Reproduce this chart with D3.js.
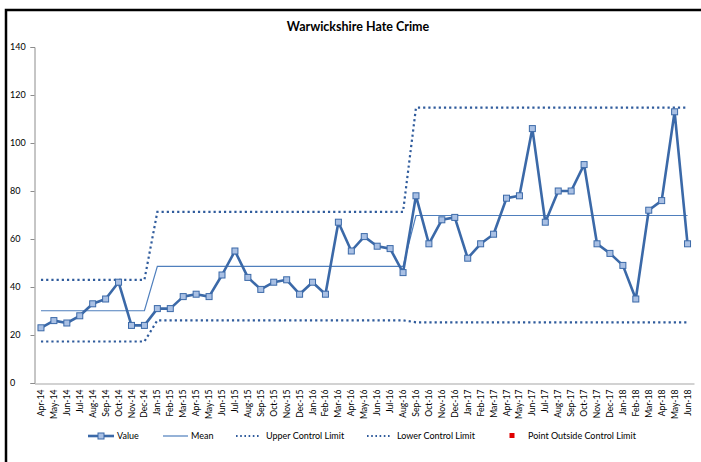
<!DOCTYPE html>
<html>
<head>
<meta charset="utf-8">
<script src="https://cdn.jsdelivr.net/npm/d3@7"></script>
<style>
html,body{margin:0;padding:0;background:#fff;}
svg text{font-family:Lato,"Liberation Sans",sans-serif;fill:#000;}
</style>
</head>
<body>
<svg id="chart" width="701" height="462"></svg>
<script>
const months = ["Apr-14","May-14","Jun-14","Jul-14","Aug-14","Sep-14","Oct-14","Nov-14","Dec-14",
"Jan-15","Feb-15","Mar-15","Apr-15","May-15","Jun-15","Jul-15","Aug-15","Sep-15","Oct-15","Nov-15","Dec-15",
"Jan-16","Feb-16","Mar-16","Apr-16","May-16","Jun-16","Jul-16","Aug-16","Sep-16","Oct-16","Nov-16","Dec-16",
"Jan-17","Feb-17","Mar-17","Apr-17","May-17","Jun-17","Jul-17","Aug-17","Sep-17","Oct-17","Nov-17","Dec-17",
"Jan-18","Feb-18","Mar-18","Apr-18","May-18","Jun-18"];
const values = [23,26,25,28,33,35,42,24,24,
31,31,36,37,36,45,55,44,39,42,43,37,
42,37,67,55,61,57,56,46,78,58,68,69,
52,58,62,77,78,106,67,80,80,91,58,54,
49,35,72,76,113,58];
// control-chart phases: [number of months, mean, upper limit, lower limit]
const phaseLengths = [9, 20, 22];
const phaseMeans = [30.1, 48.6, 69.8];
const phaseUCL = [43, 71.3, 114.7];
const phaseLCL = [17.3, 26.1, 25.3];
const yTicks = [0,20,40,60,80,100,120,140];
const title = "Warwickshire Hate Crime";
const legendLabels = ["Value","Mean","Upper Control Limit","Lower Control Limit","Point Outside Control Limit"];

function expand(arr){ const out=[]; phaseLengths.forEach((n,i)=>{for(let k=0;k<n;k++) out.push(arr[i]);}); return out; }
const meanS = expand(phaseMeans), uclS = expand(phaseUCL), lclS = expand(phaseLCL);

const svg = d3.select("#chart");
// outer chart frame
svg.append("rect").attr("x",6).attr("y",10).attr("width",720).attr("height",480)
  .attr("fill","none").attr("stroke","#000").attr("stroke-width",2.5);

const x = d3.scaleBand().domain(months).range([34.5,694]).paddingInner(0).paddingOuter(0);
const cx = d => x(d) + x.bandwidth()/2;
const y = d3.scaleLinear().domain([0,140]).range([383,47]);

svg.append("text").attr("x",358).attr("y",31).attr("text-anchor","middle")
  .attr("font-size","12.5px").attr("font-weight","bold").text(title);

// Y axis
const yAxis = svg.append("g").attr("transform","translate(34.5,0)")
  .call(d3.axisLeft(y).tickValues(yTicks).tickSize(4).tickPadding(5).tickFormat(d3.format("d")));
yAxis.select(".domain").attr("stroke","#8c8c8c");
yAxis.selectAll(".tick line").attr("stroke","#8c8c8c");
yAxis.selectAll("text").attr("font-size","9px").attr("font-family","Lato,sans-serif").attr("text-anchor","start").attr("x",-24.5);

// X axis
const xAxis = svg.append("g").attr("transform","translate(0,383.5)")
  .call(d3.axisBottom(x).tickSize(0).tickPadding(0));
xAxis.select(".domain").attr("stroke","#a6a6a6").attr("stroke-width",1.2);
xAxis.selectAll(".tick text").attr("font-size","8.6px").attr("font-family","Lato,sans-serif")
  .attr("text-anchor","end").attr("transform","translate(0,6) rotate(-90)")
  .attr("x",0).attr("y",0).attr("dy","0.35em");

const line = d3.line().x((d,i)=>cx(months[i])).y(d=>y(d));

// limits
svg.append("path").datum(uclS).attr("d",line).attr("fill","none")
  .attr("stroke","#2f5b9c").attr("stroke-width",2.2).attr("stroke-dasharray","2.2,3");
svg.append("path").datum(lclS).attr("d",line).attr("fill","none")
  .attr("stroke","#2f5b9c").attr("stroke-width",2.2).attr("stroke-dasharray","2.2,3");
// mean
svg.append("path").datum(meanS).attr("d",line).attr("fill","none")
  .attr("stroke","#4f7fbd").attr("stroke-width",1.2);
// values
svg.append("path").datum(values).attr("d",line).attr("fill","none")
  .attr("stroke","#3b69a8").attr("stroke-width",2.6).attr("stroke-linejoin","round");
svg.append("g").selectAll("rect").data(values).join("rect")
  .attr("x",(d,i)=>cx(months[i])-3).attr("y",d=>y(d)-3).attr("width",6).attr("height",6)
  .attr("fill","#a9c0e4").attr("stroke","#3b69a8").attr("stroke-width",1);

// Legend
const ly = 436;
const lg = svg.append("g");
lg.append("line").attr("x1",88).attr("x2",114).attr("y1",ly).attr("y2",ly).attr("stroke","#3b69a8").attr("stroke-width",2.6);
lg.append("rect").attr("x",98).attr("y",ly-3).attr("width",6).attr("height",6).attr("fill","#a9c0e4").attr("stroke","#3b69a8");
lg.append("line").attr("x1",163).attr("x2",188).attr("y1",ly).attr("y2",ly).attr("stroke","#4f7fbd").attr("stroke-width",1.2);
lg.append("line").attr("x1",236).attr("x2",261).attr("y1",ly).attr("y2",ly).attr("stroke","#2f5b9c").attr("stroke-width",2).attr("stroke-dasharray","1.6,2.6");
lg.append("line").attr("x1",367).attr("x2",392).attr("y1",ly).attr("y2",ly).attr("stroke","#2f5b9c").attr("stroke-width",2).attr("stroke-dasharray","1.6,2.6");
lg.append("rect").attr("x",509.5).attr("y",ly-3).attr("width",5).attr("height",5).attr("fill","#e00000");
const lx = [117,191,266,397,528];
legendLabels.forEach((t,i)=>{
  lg.append("text").attr("x",lx[i]).attr("y",ly).attr("dy","0.35em").attr("font-size","9px").text(t);
});
</script>
</body>
</html>
